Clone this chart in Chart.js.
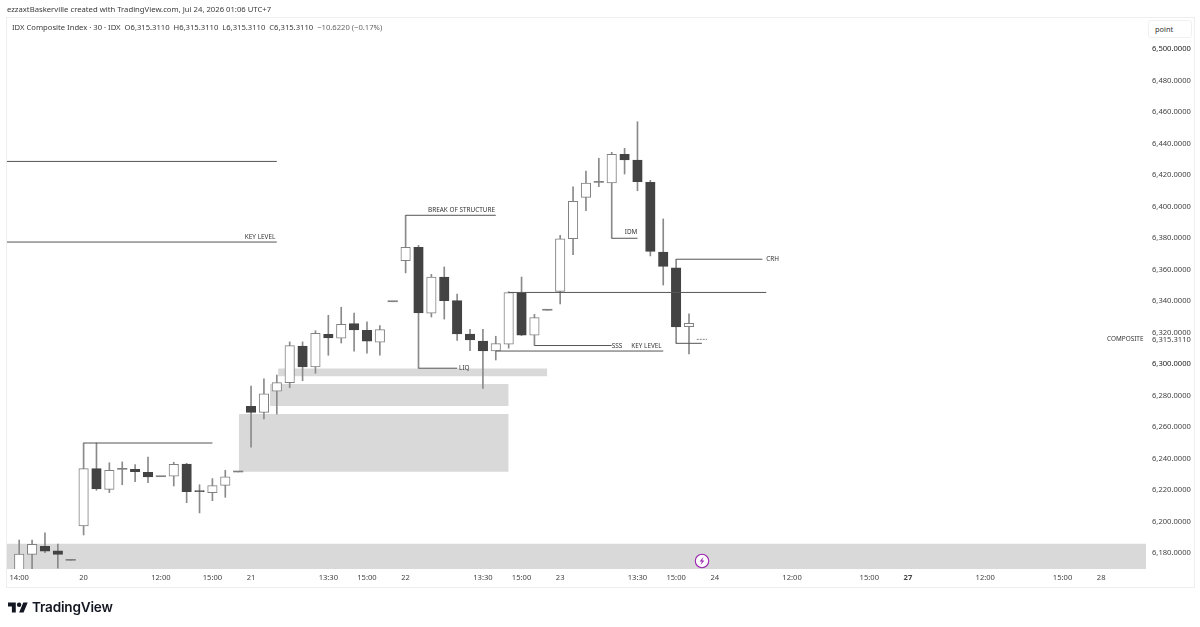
<!DOCTYPE html>
<html>
<head>
<meta charset="utf-8">
<title>IDX Composite Index</title>
<script src="https://cdn.jsdelivr.net/npm/chart.js"></script>
<style>
  html, body { margin: 0; padding: 0; background: #fff; width: 1200px; height: 627px; overflow: hidden; }
  body { position: relative; font-family: "Noto Sans", sans-serif; color: #333; }
  #frame { position: absolute; left: 6px; top: 17px; width: 1187px; height: 569px; border: 1px solid #eeeeee; }
  #chart { position: absolute; left: 0; top: 0; }
  #credit { position: absolute; left: 7px; top: 4px; font-size: 7.7px; line-height: 11px; color: #3a3a3a; white-space: nowrap; }
  #title { position: absolute; left: 12px; top: 22px; font-size: 7.65px; line-height: 11px; color: #3a3a3a; white-space: pre; }
  #title span { color: #666; }
  #unit { position: absolute; left: 1148px; top: 20px; width: 42px; height: 16px; border: 1px solid #f0f0f0; border-radius: 3px; font-size: 7.4px; line-height: 16px; text-indent: 6px; color: #333; background: #fff; }
  #bolt { position: absolute; left: 694px; top: 553px; }
  #logo { position: absolute; left: 8px; top: 600px; }
  #brand { position: absolute; left: 32px; top: 598px; font-family: Inter, sans-serif; font-weight: 600; font-size: 13.6px; line-height: 18px; color: #131722; letter-spacing: -0.2px; }
</style>
</head>
<body>
<div id="frame"></div>
<canvas id="chart" width="1200" height="627"></canvas>
<div id="credit">ezzaxtBaskerville created with TradingView.com, Jul 24, 2026 01:06 UTC+7</div>
<div id="title">IDX Composite Index · 30 · IDX  O6,315.3110  H6,315.3110  L6,315.3110  C6,315.3110  <span>−10.6220 (−0.17%)</span></div>
<div id="unit">point</div>
<svg id="bolt" width="16" height="16" viewBox="0 0 16 16">
  <circle cx="8" cy="8" r="6.7" fill="#fff" stroke="#9c27b0" stroke-width="1.1"/>
  <path d="M9.6 3.8 5.6 8.6h2.3l-1.5 3.6 4-4.8H8.1z" fill="#9c27b0"/>
</svg>
<svg id="logo" width="20" height="14" viewBox="0 0 36 24">
  <path d="M14 22H7V11H0V4h14v18zM28 22h-8l7.5-18h8L28 22z" fill="#131722"/>
  <circle cx="20" cy="8" r="4" fill="#131722"/>
</svg>
<div id="brand">TradingView</div>

<script>
/* ================= DATA ================= */
const opens = [6150, 6178.8, 6183.9, 6181.1, 6175, 6196.8, 6233.2, 6220.1, 6232.8, 6232.8, 6230.9, 6228.1, 6228.4, 6236.2, 6219.2, 6218, 6222.6, 6231.1,
  6272.8, 6269, 6282.4, 6287.8, 6311.1, 6297.8, 6318.5, 6316, 6325.3, 6321.1, 6313.6, 6339.2, 6365.3, 6373.8, 6331.9, 6354.9, 6339.9, 6318.7,
  6314.3, 6307.9, 6312.2, 6344.8, 6317.9, 6333.8, 6345.8, 6379.2, 6405.5, 6415, 6414.6, 6432.8, 6429.2, 6415, 6370.8, 6360.8, 6323.4];
const highs = [6187.9, 6187.9, 6192.4, 6185.4, 6175, 6249.5, 6249.5, 6237, 6237.5, 6235.8, 6240.6, 6228.1, 6237.3, 6236.6, 6223, 6226.9, 6232.2, 6231.1,
  6285.7, 6290.2, 6292.7, 6313.7, 6313.7, 6320.8, 6330.6, 6335.7, 6332, 6326.5, 6324, 6339.2, 6394.1, 6375, 6356.6, 6361.3, 6344.1, 6321.7,
  6321.7, 6317.3, 6345.6, 6354.9, 6331.2, 6333.8, 6381.4, 6412.1, 6422.2, 6430.3, 6434.1, 6436.6, 6453.5, 6416.3, 6391.8, 6366.2, 6331.6];
const lows = [6140, 6165, 6179.9, 6170, 6175, 6191.1, 6219.5, 6218, 6223, 6225, 6224.3, 6228.1, 6222.2, 6211.6, 6205.1, 6212.9, 6215, 6231.1,
  6246.8, 6264.8, 6267.9, 6284.6, 6289.1, 6293.8, 6305.2, 6313, 6307.8, 6306.5, 6305.2, 6339.2, 6357.5, 6297, 6329.5, 6328.2, 6314.7, 6308.1,
  6284.2, 6302.2, 6309.7, 6317.7, 6311.5, 6333.8, 6337.8, 6369.1, 6397, 6412.3, 6379.5, 6420.3, 6409.7, 6368.3, 6349.8, 6312.8, 6306];
const closes = [6179, 6185.2, 6180.9, 6178.8, 6175, 6233.2, 6220.3, 6232.2, 6232.8, 6231.3, 6227.9, 6228.1, 6236, 6218.6, 6218.6, 6222.4, 6228.1, 6231.1,
  6269, 6280.8, 6287.8, 6311.3, 6297.8, 6319.2, 6316.2, 6324.9, 6321.3, 6314.1, 6321.5, 6339.2, 6373.8, 6332.1, 6354.9, 6339.9, 6318.7, 6314.9,
  6307.9, 6312.6, 6345, 6317.9, 6329.1, 6333.8, 6379.2, 6403, 6414.6, 6415, 6432.8, 6429.2, 6415.4, 6371.2, 6361.7, 6323.2, 6325.5];

const lastPrice = 6315.311;
const lastBar = 53;

const xTickBars = [0, 5, 11, 15, 18, 24, 27, 30, 36, 39, 42, 48, 51, 54, 60, 66, 69, 75, 81, 84];
const xTickLabels = ['14:00', '20', '12:00', '15:00', '21', '13:30', '15:00', '22', '13:30', '15:00', '23', '13:30', '15:00', '24', '12:00', '15:00', '27', '12:00', '15:00', '28'];
const yTickValues = [6180, 6200, 6220, 6240, 6260, 6280, 6300, 6320, 6340, 6360, 6380, 6400, 6420, 6440, 6460, 6480, 6500];

const xMin = -0.947;
const xMax = 87.48;
const yMin = 6169.5;
const yMax = 6518.1;

// grey zones
const zoneFrom = [xMin, 17.05, 19.47, 20.1];
const zoneTo = [xMax, 38, 38, 41];
const zoneTop = [6185.6, 6267.9, 6287, 6296.8];
const zoneBottom = [yMin, 6231.3, 6273, 6291.9];

// drawn levels
const levelFrom = [xMin, xMin, 5, 30, 31, 38, 40, 37, 46, 51, 51];
const levelTo = [20, 20, 15, 37, 34, 58, 46, 50, 48, 57.7, 53];
const levelPrice = [6428.3, 6377.1, 6249.5, 6394.1, 6297, 6345.1, 6311.4, 6307.9, 6379.5, 6366.2, 6312.8];

// drawn labels
const noteText = ['KEY LEVEL', 'BREAK OF STRUCTURE', 'LIQ', 'SSS', 'KEY LEVEL', 'IDM', 'CRH', 'COMPOSITE'];
const noteBar = [18.7, 34.34, 34.15, 46, 48.7, 47.5, 58, 84.46];
const notePrice = [6380, 6397.5, 6297, 6311.1, 6311.1, 6383.5, 6366.2, 6315.3];
const noteAlign = ['center', 'center', 'left', 'left', 'center', 'center', 'left', 'left'];

/* ================= COLORS ================= */
const UP_FILL = '#ffffff';
const DOWN_FILL = '#434343';
const EDGE = '#808080';
const WICK = '#8a8a8a';
const LEVEL = '#555555';
const ZONE = '#d9d9d9';

function bodyFill(i) {
  if (closes[i] === opens[i]) return EDGE;
  return closes[i] > opens[i] ? UP_FILL : DOWN_FILL;
}
function bodyEdge(i) {
  if (closes[i] === opens[i]) return EDGE;
  return closes[i] > opens[i] ? EDGE : DOWN_FILL;
}

/* ================= DATASETS ================= */
const datasets = [];

zoneFrom.forEach((from, i) => {
  datasets.push({
    type: 'line',
    data: [{ x: from, y: zoneTop[i] }, { x: zoneTo[i], y: zoneTop[i] }],
    fill: { value: zoneBottom[i] },
    backgroundColor: ZONE,
    borderWidth: 0,
    pointRadius: 0,
    order: 10
  });
});

datasets.push({
  type: 'bar',
  data: opens.map((o, i) => ({ x: i, y: [lows[i], highs[i]] })),
  backgroundColor: WICK,
  borderWidth: 0,
  barThickness: 1,
  grouped: false,
  minBarLength: 0,
  order: 5
});

datasets.push({
  type: 'bar',
  data: opens.map((o, i) => ({ x: i, y: [o, closes[i]] })),
  backgroundColor: opens.map((o, i) => bodyFill(i)),
  borderColor: opens.map((o, i) => bodyEdge(i)),
  borderWidth: opens.map((o, i) => (closes[i] === o ? 0 : 1)),
  borderSkipped: false,
  barThickness: 9.5,
  grouped: false,
  minBarLength: 1,
  order: 4
});

levelFrom.forEach((from, i) => {
  datasets.push({
    type: 'line',
    data: [{ x: from, y: levelPrice[i] }, { x: levelTo[i], y: levelPrice[i] }],
    borderColor: LEVEL,
    borderWidth: 1,
    pointRadius: 0,
    order: 2
  });
});

// last bar, still forming
datasets.push({
  type: 'line',
  data: [{ x: lastBar - 0.4, y: lastPrice }, { x: lastBar + 0.4, y: lastPrice }],
  borderColor: '#888888',
  borderWidth: 1,
  borderDash: [2, 1],
  pointRadius: 0,
  order: 2
});

/* ================= LABELS ================= */
const notesPlugin = {
  id: 'notes',
  afterDatasetsDraw(chart) {
    const { ctx, scales } = chart;
    ctx.save();
    ctx.font = '6.4px "Noto Sans"';
    ctx.fillStyle = '#333333';
    ctx.textBaseline = 'middle';
    noteText.forEach((t, i) => {
      ctx.textAlign = noteAlign[i];
      ctx.fillText(t, scales.x.getPixelForValue(noteBar[i]), scales.y.getPixelForValue(notePrice[i]));
    });
    ctx.restore();
  }
};

/* ================= CHART ================= */
new Chart(document.getElementById('chart'), {
  data: { datasets },
  plugins: [notesPlugin],
  options: {
    responsive: false,
    animation: false,
    events: [],
    layout: { padding: { left: 7, top: 20, right: 0, bottom: 40 } },
    plugins: { legend: { display: false }, tooltip: { enabled: false } },
    scales: {
      x: {
        type: 'linear',
        offset: false,
        min: xMin,
        max: xMax,
        grid: { display: false, drawTicks: false, offset: false },
        border: { display: false },
        afterBuildTicks: scale => { scale.ticks = xTickBars.map(v => ({ value: v })); },
        afterFit: scale => { scale.height = 18; },
        ticks: {
          autoSkip: false,
          maxRotation: 0,
          padding: 4,
          color: '#444444',
          font: ctx => ({ family: 'Noto Sans', size: 7.6, weight: ctx.tick && ctx.tick.value === 69 ? '700' : '400' }),
          callback: value => xTickLabels[xTickBars.indexOf(value)]
        }
      },
      y: {
        type: 'linear',
        position: 'right',
        min: yMin,
        max: yMax,
        grid: { display: false, drawTicks: false },
        border: { display: false },
        afterBuildTicks: scale => { scale.ticks = yTickValues.concat(lastPrice).map(v => ({ value: v })); },
        afterFit: scale => { scale.width = 54; },
        ticks: {
          autoSkip: false,
          padding: 6,
          labelOffset: 0.5,
          color: ctx => (ctx.tick && (ctx.tick.value === 6500 || ctx.tick.value === 6300) ? '#222222' : '#444444'),
          font: { family: 'Noto Sans', size: 7.6 },
          callback: value => value.toLocaleString('en-US', { minimumFractionDigits: 4, maximumFractionDigits: 4 })
        }
      }
    }
  }
});
</script>
</body>
</html>
